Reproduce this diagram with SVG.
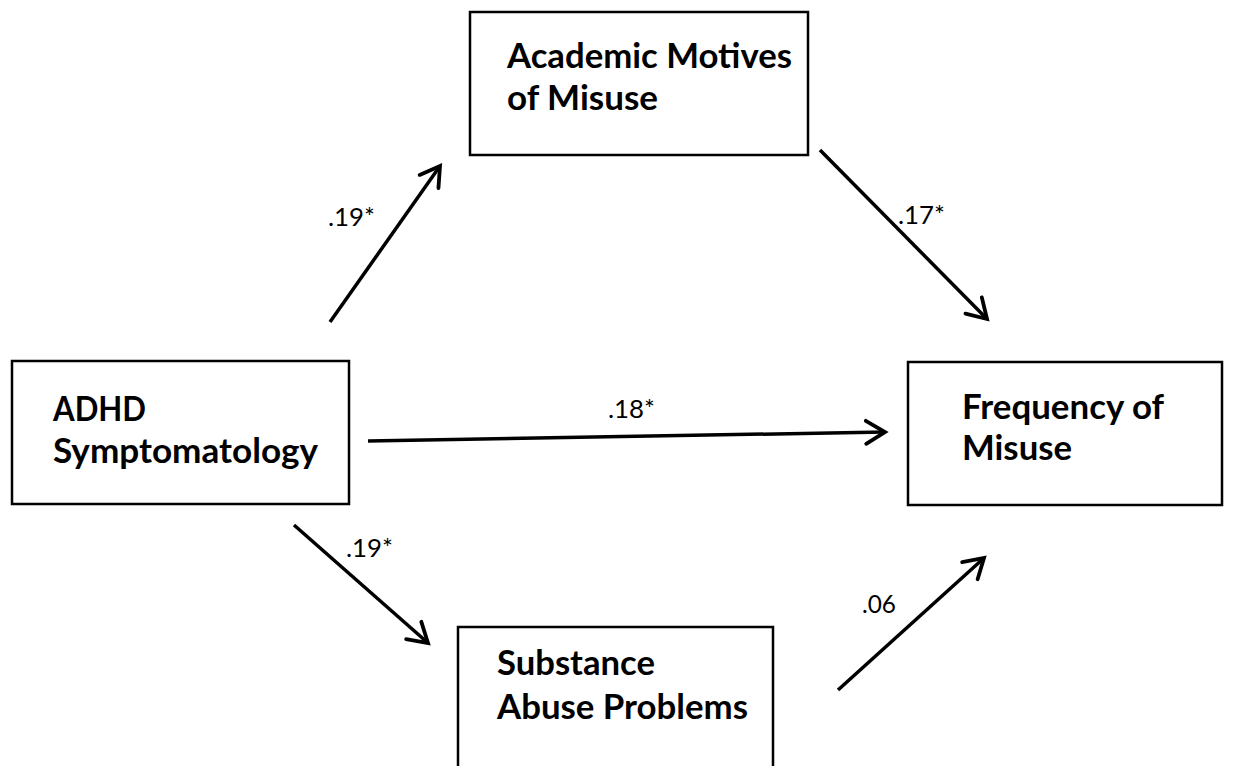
<svg xmlns="http://www.w3.org/2000/svg" width="1241" height="766" viewBox="0 0 1241 766">
<defs>
<style>
.box{fill:#fff;stroke:#000;stroke-width:2.5}
.lbl{font-family:Lato,"Liberation Sans",sans-serif;font-weight:bold;font-size:33.5px;fill:#000}
.num{font-family:Lato,"Liberation Sans",sans-serif;font-size:25px;fill:#000}
.arr{fill:none;stroke:#000;stroke-width:3.5;marker-end:url(#chev)}
</style>
<marker id="chev" markerUnits="userSpaceOnUse" markerWidth="30" markerHeight="30" viewBox="-22 -15 26 30" refX="0" refY="0" orient="auto">
<path d="M-19,-11.5 L0,0 L-19,11.5" fill="none" stroke="#000" stroke-width="3.8" stroke-linecap="round" stroke-linejoin="miter"/>
</marker>
</defs>
<rect width="1241" height="766" fill="#fff"/>
<g id="academic">
<rect class="box" x="470" y="12" width="338" height="143"/>
<text class="lbl" x="507" y="68" textLength="285" lengthAdjust="spacingAndGlyphs">Academic Motives</text>
<text class="lbl" x="507" y="110" textLength="151" lengthAdjust="spacingAndGlyphs">of Misuse</text>
</g>
<g id="adhd">
<rect class="box" x="12" y="361" width="337" height="143"/>
<text class="lbl" x="53" y="421" textLength="93" lengthAdjust="spacingAndGlyphs">ADHD</text>
<text class="lbl" x="53" y="463" textLength="265" lengthAdjust="spacingAndGlyphs">Symptomatology</text>
</g>
<g id="frequency">
<rect class="box" x="908" y="362" width="314" height="143"/>
<text class="lbl" x="962" y="419" textLength="202" lengthAdjust="spacingAndGlyphs">Frequency of</text>
<text class="lbl" x="962" y="460" textLength="110" lengthAdjust="spacingAndGlyphs">Misuse</text>
</g>
<g id="substance">
<rect class="box" x="458" y="627" width="315" height="160"/>
<text class="lbl" x="497" y="675" textLength="158" lengthAdjust="spacingAndGlyphs">Substance</text>
<text class="lbl" x="497" y="719" textLength="251" lengthAdjust="spacingAndGlyphs">Abuse Problems</text>
</g>
<g id="connectors">
<line class="arr" x1="330" y1="322" x2="440" y2="166"/>
<line class="arr" x1="820" y1="150" x2="987" y2="319"/>
<line class="arr" x1="368" y1="441" x2="885" y2="432"/>
<line class="arr" x1="294" y1="525" x2="428" y2="643"/>
<line class="arr" x1="838" y1="690" x2="984" y2="558"/>
<text class="num" x="328" y="226" textLength="47" lengthAdjust="spacingAndGlyphs">.19*</text>
<text class="num" x="898" y="224" textLength="47" lengthAdjust="spacingAndGlyphs">.17*</text>
<text class="num" x="608" y="418" textLength="47" lengthAdjust="spacingAndGlyphs">.18*</text>
<text class="num" x="346" y="557" textLength="47" lengthAdjust="spacingAndGlyphs">.19*</text>
<text class="num" x="862" y="613" textLength="34" lengthAdjust="spacingAndGlyphs">.06</text>
</g>
</svg>
